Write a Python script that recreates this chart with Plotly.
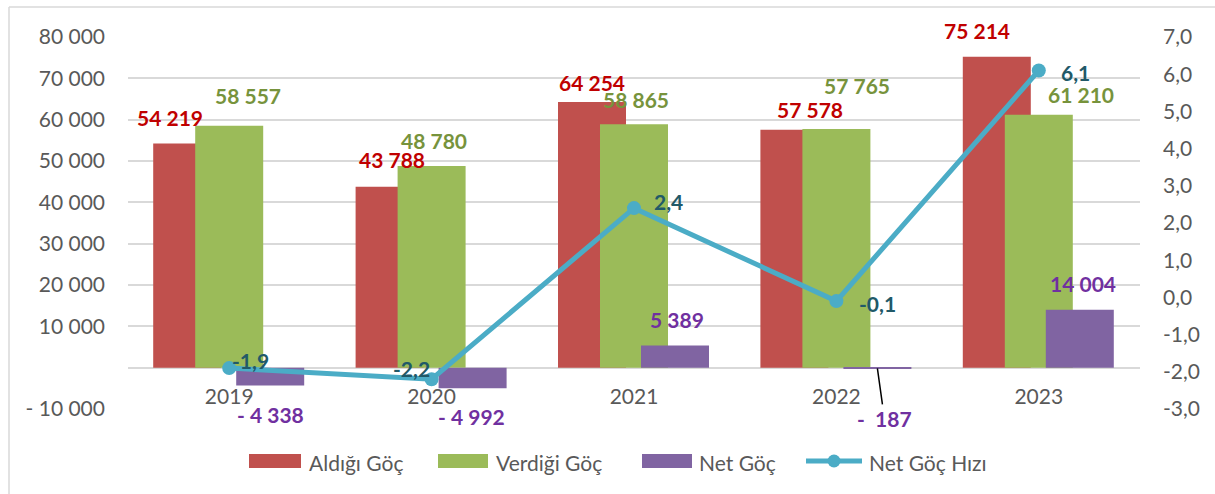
import plotly.graph_objects as go

# ---------------- data ----------------
years = ["2019", "2020", "2021", "2022", "2023"]
aldigi = [54219, 43788, 64254, 57578, 75214]      # Aldığı Göç
verdigi = [58557, 48780, 58865, 57765, 61210]     # Verdiği Göç
net = [-4338, -4992, 5389, -187, 14004]           # Net Göç
hiz = [-1.9, -2.2, 2.4, -0.1, 6.1]                # Net Göç Hızı
series_names = ["Aldığı Göç", "Verdiği Göç", "Net Göç", "Net Göç Hızı"]

left_ticks = [80000, 70000, 60000, 50000, 40000, 30000, 20000, 10000, 0, -10000]
left_ticktext = ["80 000", "70 000", "60 000", "50 000", "40 000", "30 000",
                 "20 000", "10 000", "", "- 10 000"]
right_ticks = [7, 6, 5, 4, 3, 2, 1, 0, -1, -2, -3]
right_ticktext = ["7,0", "6,0", "5,0", "4,0", "3,0", "2,0", "1,0", "0,0",
                  "-1,0", "-2,0", "-3,0"]

# ---------------- style ----------------
W, H = 1215, 494
PL, PR, PT, PB = 128, 1140, 37, 409          # plot area in pixels
FONT = "Lato"
C_RED, C_GREEN, C_PURPLE, C_LINE = "#C0504D", "#9BBB59", "#8064A2", "#4BACC6"
T_RED, T_GREEN, T_PURPLE, T_LINE = "#C00000", "#77933C", "#7030A0", "#215968"
GREY_TXT = "#595959"
GRID = "#D9D9D9"
YL = [-10000, 80000]
YR = [-3, 7]

xpos = list(range(len(years)))
cat_px = (PR - PL) / len(years)
bw = 68 / cat_px
off_red, off_green, off_purple = -76 / cat_px, -34 / cat_px, 7 / cat_px

# label nudges (pixels; y positive = up)
sh_red = [(-59, 26), (-40, 27), (-42, 20), (-26, 20), (-62, 26)]
sh_green = [(19, 30), (2, 26), (2, 25), (21, 43), (42, 20)]
sh_purple = [(41, -29), (40, -28), (43, 26), (41, 0), (44, 26)]
sh_line = [(21, 8), (-20, 11), (34, 7), (41, -2), (37, -2)]

# legend layout (pixels)
LEG_Y = 461
leg_swatch_x = [(249, 301), (438, 488), (642, 692)]
leg_line_x = (806, 862)
leg_text_x = [307, 494, 697, 867]


def fmt_int(v):
    s = f"{abs(v):,}".replace(",", "\u00a0")
    if v < 0:
        s = "-\u00a0" + ("\u00a0" if abs(v) < 1000 else "") + s
    return s


def fmt_dec(v):
    return f"{v:.1f}".replace(".", ",")


pw, ph = PR - PL, PB - PT


def px_x(p):
    return (p - PL) / pw


def px_y(p):
    return (PB - p) / ph


fig = go.Figure()
fig.add_trace(go.Bar(name=series_names[0], x=xpos, y=aldigi, marker_color=C_RED,
                     marker_line_width=0, width=bw, offset=off_red, showlegend=False))
fig.add_trace(go.Bar(name=series_names[1], x=xpos, y=verdigi, marker_color=C_GREEN,
                     marker_line_width=0, width=bw, offset=off_green, showlegend=False))
fig.add_trace(go.Bar(name=series_names[2], x=xpos, y=net, marker_color=C_PURPLE,
                     marker_line_width=0, width=bw, offset=off_purple, showlegend=False))
fig.add_trace(go.Scatter(name=series_names[3], x=xpos, y=hiz, yaxis="y2",
                         mode="lines+markers", showlegend=False,
                         line=dict(color=C_LINE, width=5),
                         marker=dict(color=C_LINE, size=14)))


def lab(x, y, yref, text, color, dx, dy):
    fig.add_annotation(x=x, y=y, xref="x", yref=yref, text=text, showarrow=False,
                       xshift=dx, yshift=dy,
                       font=dict(family=FONT, size=21, color=color))


for i in xpos:
    lab(i, aldigi[i], "y", "<b>" + fmt_int(aldigi[i]) + "</b>", T_RED, *sh_red[i])
    lab(i, verdigi[i], "y", "<b>" + fmt_int(verdigi[i]) + "</b>", T_GREEN, *sh_green[i])
    if abs(net[i]) < 1000:
        fig.add_annotation(x=i, y=net[i], xref="x", yref="y",
                           text="<b>" + fmt_int(net[i]) + "</b>",
                           showarrow=True, arrowhead=0, arrowwidth=1.5, arrowcolor="#000000",
                           ax=7, ay=50, xshift=sh_purple[i][0],
                           font=dict(family=FONT, size=21, color=T_PURPLE))
    else:
        lab(i, net[i], "y", "<b>" + fmt_int(net[i]) + "</b>", T_PURPLE, *sh_purple[i])
    lab(i, hiz[i], "y2", "<b>" + fmt_dec(hiz[i]) + "</b>", T_LINE, *sh_line[i])

# chart border (top & left edges)
fig.add_shape(type="line", xref="paper", yref="paper", x0=px_x(9), x1=px_x(W),
              y0=px_y(7), y1=px_y(7), line=dict(color=GRID, width=1.5))
fig.add_shape(type="line", xref="paper", yref="paper", x0=px_x(9), x1=px_x(9),
              y0=px_y(7), y1=px_y(H), line=dict(color=GRID, width=1.5))

# legend
for (x0, x1), col in zip(leg_swatch_x, [C_RED, C_GREEN, C_PURPLE]):
    fig.add_shape(type="rect", xref="paper", yref="paper", x0=px_x(x0), x1=px_x(x1),
                  y0=px_y(LEG_Y - 7), y1=px_y(LEG_Y + 7), fillcolor=col, line_width=0)
fig.add_shape(type="line", xref="paper", yref="paper", x0=px_x(leg_line_x[0]),
              x1=px_x(leg_line_x[1]), y0=px_y(LEG_Y), y1=px_y(LEG_Y),
              line=dict(color=C_LINE, width=5))
cx = (leg_line_x[0] + leg_line_x[1]) / 2
fig.add_shape(type="circle", xref="paper", yref="paper", x0=px_x(cx - 6.5), x1=px_x(cx + 6.5),
              y0=px_y(LEG_Y + 6.5), y1=px_y(LEG_Y - 6.5), fillcolor=C_LINE, line_width=0)
for name, tx in zip(series_names, leg_text_x):
    fig.add_annotation(x=px_x(tx), y=px_y(LEG_Y + 1), xref="paper", yref="paper",
                       xanchor="left", yanchor="middle", text=name, showarrow=False,
                       font=dict(family=FONT, size=21, color=GREY_TXT))

zero_pos = (0 - YL[0]) / (YL[1] - YL[0])

fig.update_layout(
    width=W, height=H,
    margin=dict(l=PL, r=W - PR, t=PT, b=H - PB, pad=0),
    paper_bgcolor="white", plot_bgcolor="white",
    barmode="overlay",
    font=dict(family=FONT, size=20, color=GREY_TXT),
    showlegend=False,
    xaxis=dict(type="linear", anchor="free", position=zero_pos, showgrid=False,
               showline=False, zeroline=False, ticks="", ticklabelstandoff=14,
               tickvals=xpos, ticktext=years,
               tickfont=dict(family=FONT, size=21, color=GREY_TXT),
               range=[-0.5, len(years) - 0.5]),
    yaxis=dict(range=YL, tickvals=left_ticks, ticktext=left_ticktext, showgrid=True,
               gridcolor=GRID, gridwidth=1.5, zeroline=False, showline=False,
               ticks="", ticklabelstandoff=22,
               tickfont=dict(family=FONT, size=21, color=GREY_TXT)),
    yaxis2=dict(range=YR, tickvals=right_ticks, ticktext=right_ticktext, overlaying="y",
                side="right", showgrid=False, zeroline=False, showline=False, ticks="",
                ticklabelstandoff=22,
                tickfont=dict(family=FONT, size=21, color=GREY_TXT)),
)

fig.write_html("out.html", config={"displayModeBar": False},
               post_script="document.body.style.margin='0px';")
